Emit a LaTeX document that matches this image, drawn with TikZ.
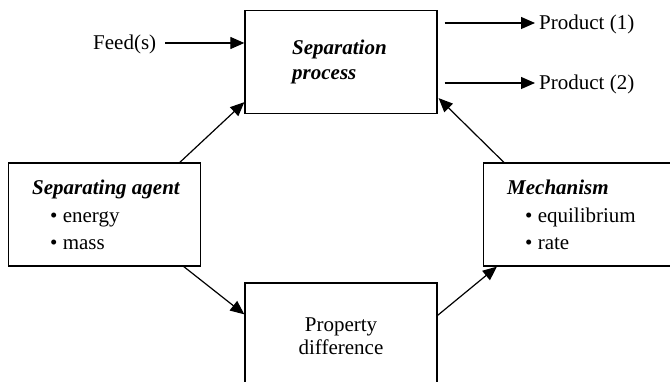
\documentclass[tikz,border=0pt]{standalone}
\usepackage{fontspec}
\setmainfont{Liberation Serif}
\usetikzlibrary{arrows.meta}
\begin{document}
\begin{tikzpicture}[x=1pt,y=-1pt,
  box/.style={draw, line width=1.3pt, minimum width=192pt, minimum height=103pt, inner sep=0pt},
  lbl/.style={font=\fontsize{21}{25}\selectfont, inner sep=0pt, anchor=base west},
  ttl/.style={lbl, font=\fontsize{21}{25}\selectfont\bfseries\itshape},
  arr/.style={line width=1.2pt, -{Triangle[length=14pt,width=12pt]}}]
\useasboundingbox (0,0) rectangle (670,382);
\begin{scope}
\clip (0,0) rectangle (670,382);
% boxes
\node[box] (sep) at (341,62) {};
\node[box] (agent) at (104.5,214.5) {};
\node[box] (mech) at (579.5,214.5) {};
\node[box] (prop) at (341,334.5) {};
\end{scope}
% texts
\node[ttl] (t1) at (292,55) {Separation};
\node[ttl] (t2) at (292,80) {process};
\node[ttl] (a1) at (32,195) {Separating agent};
\node[lbl] (a2) at (50,223) {• energy};
\node[lbl] (a3) at (50,250) {• mass};
\node[ttl] (m1) at (507,195) {Mechanism};
\node[lbl] (m2) at (525,223) {• equilibrium};
\node[lbl] (m3) at (525,250) {• rate};
\node[lbl, anchor=base] (p1) at (341,331) {Property};
\node[lbl, anchor=base] (p2) at (341,355) {difference};
\node[lbl] (feed) at (93,50) {Feed(s)};
\node[lbl] (pr1) at (539,30) {Product (1)};
\node[lbl] (pr2) at (539,90) {Product (2)};
% connectors
\draw[arr] (feed.base east |- 0,43) ++(9,0) coordinate (f0) -- (f0 -| sep.west);
\coordinate (o1) at (sep.east |- 0,23);
\coordinate (o2) at (sep.east |- 0,83);
\draw[arr] ([xshift=7pt]o1) -- ([xshift=-4pt]pr1.west |- o1);
\draw[arr] ([xshift=7pt]o2) -- ([xshift=-4pt]pr2.west |- o2);
\draw[arr] ([xshift=172pt]agent.north west) -- ([yshift=12pt]sep.south west);
\draw[arr] ([xshift=176pt]agent.south west) -- ([yshift=-32pt]prop.north west);
\draw[arr] ([yshift=-33pt]prop.north east) -- ([xshift=14pt]mech.south west);
\draw[arr] ([xshift=21pt]mech.north west) -- ([xshift=1pt,yshift=16pt]sep.south east);
\end{tikzpicture}
\end{document}
